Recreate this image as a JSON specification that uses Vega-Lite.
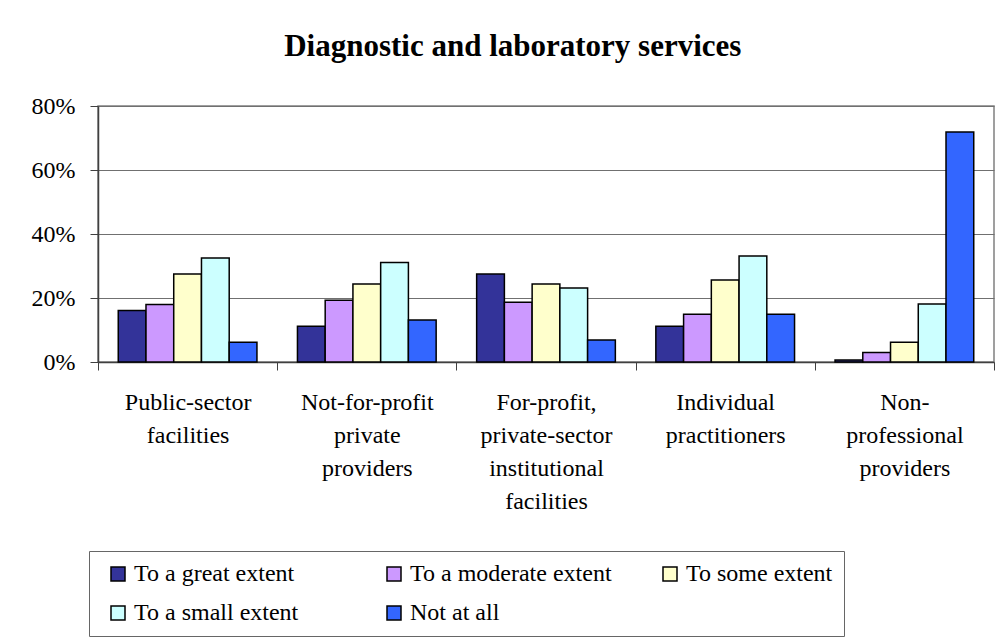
{
  "$schema": "https://vega.github.io/schema/vega-lite/v6.json",
  "autosize": "none",
  "width": 896,
  "height": 256,
  "padding": {"left": 98, "top": 106, "right": 5, "bottom": 279},
  "background": "white",
  "title": {
    "text": "Diagnostic and laboratory services",
    "font": "'Liberation Serif', 'Times New Roman', serif",
    "fontSize": 31,
    "fontWeight": "bold",
    "color": "black",
    "anchor": "middle",
    "frame": "bounds",
    "baseline": "alphabetic",
    "offset": 7
  },
  "data": {
    "values": [
      {"provider": "Public-sector facilities", "level": "To a great extent", "value": 0.161},
      {"provider": "Public-sector facilities", "level": "To a moderate extent", "value": 0.180},
      {"provider": "Public-sector facilities", "level": "To some extent", "value": 0.275},
      {"provider": "Public-sector facilities", "level": "To a small extent", "value": 0.325},
      {"provider": "Public-sector facilities", "level": "Not at all", "value": 0.062},
      {"provider": "Not-for-profit private providers", "level": "To a great extent", "value": 0.112},
      {"provider": "Not-for-profit private providers", "level": "To a moderate extent", "value": 0.193},
      {"provider": "Not-for-profit private providers", "level": "To some extent", "value": 0.244},
      {"provider": "Not-for-profit private providers", "level": "To a small extent", "value": 0.311},
      {"provider": "Not-for-profit private providers", "level": "Not at all", "value": 0.131},
      {"provider": "For-profit, private-sector institutional facilities", "level": "To a great extent", "value": 0.275},
      {"provider": "For-profit, private-sector institutional facilities", "level": "To a moderate extent", "value": 0.187},
      {"provider": "For-profit, private-sector institutional facilities", "level": "To some extent", "value": 0.244},
      {"provider": "For-profit, private-sector institutional facilities", "level": "To a small extent", "value": 0.231},
      {"provider": "For-profit, private-sector institutional facilities", "level": "Not at all", "value": 0.069},
      {"provider": "Individual practitioners", "level": "To a great extent", "value": 0.112},
      {"provider": "Individual practitioners", "level": "To a moderate extent", "value": 0.149},
      {"provider": "Individual practitioners", "level": "To some extent", "value": 0.256},
      {"provider": "Individual practitioners", "level": "To a small extent", "value": 0.331},
      {"provider": "Individual practitioners", "level": "Not at all", "value": 0.149},
      {"provider": "Non-professional providers", "level": "To a great extent", "value": 0.006},
      {"provider": "Non-professional providers", "level": "To a moderate extent", "value": 0.030},
      {"provider": "Non-professional providers", "level": "To some extent", "value": 0.062},
      {"provider": "Non-professional providers", "level": "To a small extent", "value": 0.181},
      {"provider": "Non-professional providers", "level": "Not at all", "value": 0.719}
    ]
  },
  "mark": {"type": "bar", "stroke": "black", "strokeWidth": 1.5},
  "encoding": {
    "x": {
      "field": "provider",
      "type": "nominal",
      "sort": null,
      "scale": {"paddingInner": 0, "paddingOuter": 0},
      "axis": {
        "title": null,
        "labelAngle": 0,
        "tickBand": "extent",
        "tickSize": 8,
        "tickColor": "#404040",
        "domainColor": "#404040",
        "domainWidth": 1.5,
        "labelFont": "'Liberation Serif', 'Times New Roman', serif",
        "labelFontSize": 24,
        "labelColor": "black",
        "labelLineHeight": 33,
        "labelPadding": 20,
        "labelLimit": 0,
        "labelExpr": "datum.value == 'Public-sector facilities' ? ['Public-sector', 'facilities'] : datum.value == 'Not-for-profit private providers' ? ['Not-for-profit', 'private', 'providers'] : datum.value == 'For-profit, private-sector institutional facilities' ? ['For-profit,', 'private-sector', 'institutional', 'facilities'] : datum.value == 'Individual practitioners' ? ['Individual', 'practitioners'] : datum.value == 'Non-professional providers' ? ['Non-', 'professional', 'providers'] : ''"
      }
    },
    "xOffset": {
      "field": "level",
      "type": "nominal",
      "scale": {
        "domain": ["To a great extent", "To a moderate extent", "To some extent", "To a small extent", "Not at all"],
        "paddingInner": 0,
        "paddingOuter": 0.73
      }
    },
    "y": {
      "field": "value",
      "type": "quantitative",
      "scale": {"domain": [0, 0.8], "nice": false},
      "axis": {
        "title": null,
        "values": [0, 0.2, 0.4, 0.6, 0.8],
        "format": ".0%",
        "grid": true,
        "gridColor": "#707070",
        "gridWidth": 1.2,
        "tickSize": 8,
        "tickColor": "#404040",
        "domainColor": "#404040",
        "domainWidth": 1.5,
        "labelFont": "'Liberation Serif', 'Times New Roman', serif",
        "labelFontSize": 24,
        "labelColor": "black",
        "labelPadding": 15
      }
    },
    "color": {
      "field": "level",
      "type": "nominal",
      "scale": {
        "domain": ["To a great extent", "To a moderate extent", "To some extent", "To a small extent", "Not at all"],
        "range": ["#333399", "#CC99FF", "#FFFFCC", "#CCFFFF", "#3366FF"]
      },
      "legend": {
        "title": null,
        "orient": "none",
        "legendX": -9,
        "legendY": 445,
        "direction": "horizontal",
        "columns": 3,
        "gridAlign": "all",
        "columnPadding": 40,
        "rowPadding": 15,
        "padding": 11,
        "strokeColor": "#666666",
        "fillColor": "white",
        "symbolType": "square",
        "symbolSize": 196,
        "symbolStrokeColor": "black",
        "symbolStrokeWidth": 1.5,
        "symbolOpacity": 1,
        "symbolOffset": 6,
        "labelOffset": 4,
        "labelFont": "'Liberation Serif', 'Times New Roman', serif",
        "labelFontSize": 24,
        "labelColor": "black",
        "labelLimit": 0
      }
    }
  },
  "config": {
    "view": {"stroke": "#808080", "strokeWidth": 1.5}
  }
}
